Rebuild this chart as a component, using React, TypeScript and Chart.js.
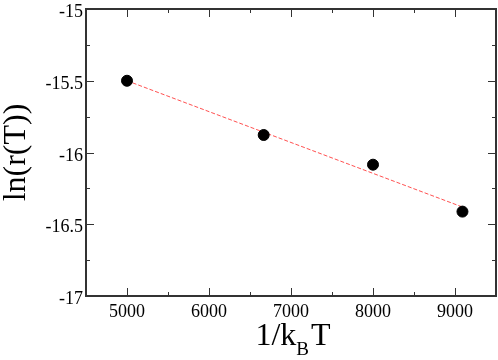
import React, { useEffect, useRef } from "react";
import { Chart, registerables } from "chart.js";

Chart.register(...registerables);

const invKT = [5000, 6667, 8000, 9091];
const lnRate = [-15.5, -15.878, -16.085, -16.412];
const fitX = [5000, 9091];
const fitY = [-15.5, -16.38];
const xTicks = [5000, 6000, 7000, 8000, 9000];
const yTicks = [-17, -16.5, -16, -15.5, -15];
const xMinor = [5500, 6500, 7500, 8500];
const yMinor = [-16.75, -16.25, -15.75, -15.25];
const xTitleMain = "1/k";
const xTitleSub = "B";
const xTitleEnd = "T";
const yTitle = "ln(r(T))";

const SERIF = "'Liberation Serif', 'DejaVu Serif', serif";
const AXIS = "#333333";

const framePlugin = {
  id: "frame",
  afterDatasetsDraw(chart: any) {
    const { ctx, chartArea: a, scales } = chart;
    const xs = scales.x, ys = scales.y;
    ctx.save();
    ctx.strokeStyle = AXIS;
    ctx.lineWidth = 1;
    const tick = (x1: number, y1: number, x2: number, y2: number) => {
      ctx.beginPath();
      ctx.moveTo(x1, y1);
      ctx.lineTo(x2, y2);
      ctx.stroke();
    };
    xTicks.forEach((v) => {
      const p = Math.round(xs.getPixelForValue(v)) + 0.5;
      tick(p, a.bottom, p, a.bottom - 8);
      tick(p, a.top, p, a.top + 8);
    });
    xMinor.forEach((v) => {
      const p = Math.round(xs.getPixelForValue(v)) + 0.5;
      tick(p, a.bottom, p, a.bottom - 4);
      tick(p, a.top, p, a.top + 4);
    });
    yTicks.forEach((v) => {
      const p = Math.round(ys.getPixelForValue(v)) + 0.5;
      tick(a.left, p, a.left + 8, p);
      tick(a.right, p, a.right - 8, p);
    });
    yMinor.forEach((v) => {
      const p = Math.round(ys.getPixelForValue(v)) + 0.5;
      tick(a.left, p, a.left + 4, p);
      tick(a.right, p, a.right - 4, p);
    });
    ctx.lineWidth = 2;
    ctx.strokeRect(a.left, a.top, a.right - a.left, a.bottom - a.top);

    // tick labels
    ctx.fillStyle = "#000";
    ctx.font = `18px ${SERIF}`;
    ctx.textBaseline = "alphabetic";
    ctx.textAlign = "center";
    xTicks.forEach((v) => {
      ctx.fillText(String(v), xs.getPixelForValue(v), a.bottom + 21);
    });
    ctx.textAlign = "right";
    yTicks.forEach((v) => {
      ctx.fillText(String(v), a.left - 3, ys.getPixelForValue(v) + 8);
    });

    // titles
    ctx.font = `32px ${SERIF}`;
    ctx.textBaseline = "alphabetic";
    ctx.textAlign = "left";
    const w1 = ctx.measureText(xTitleMain).width;
    const w3 = ctx.measureText(xTitleEnd).width;
    ctx.font = `19px ${SERIF}`;
    const w2 = ctx.measureText(xTitleSub).width;
    const total = w1 + w2 + 2 + w3;
    const cx = (a.left + a.right) / 2 + 2;
    const x0 = cx - total / 2;
    const base = a.bottom + 49;
    ctx.font = `32px ${SERIF}`;
    ctx.fillText(xTitleMain, x0, base);
    ctx.font = `19px ${SERIF}`;
    ctx.fillText(xTitleSub, x0 + w1, base + 10);
    ctx.font = `32px ${SERIF}`;
    ctx.fillText(xTitleEnd, x0 + w1 + w2 + 2, base);

    ctx.save();
    ctx.translate(17, (a.top + a.bottom) / 2);
    ctx.rotate(-Math.PI / 2);
    ctx.textAlign = "center";
    ctx.textBaseline = "middle";
    ctx.font = `32px ${SERIF}`;
    ctx.fillText(yTitle, 0, 0);
    ctx.restore();
    ctx.restore();
  },
};

export default function App() {
  const ref = useRef<HTMLCanvasElement>(null);
  useEffect(() => {
    document.body.style.margin = "0";
    const canvas = ref.current!;
    const chart = new Chart(canvas, {
      type: "scatter",
      data: {
        datasets: [
          {
            type: "scatter",
            data: invKT.map((x, i) => ({ x, y: lnRate[i] })),
            backgroundColor: "#000",
            borderColor: "#000",
            pointRadius: 5.5,
            pointHoverRadius: 5.5,
            order: 0,
          },
          {
            type: "line",
            data: fitX.map((x, i) => ({ x, y: fitY[i] })),
            borderColor: "rgba(255,50,50,0.85)",
            borderWidth: 1,
            borderDash: [4, 2],
            pointRadius: 0,
            fill: false,
            order: 1,
          } as any,
        ],
      },
      options: {
        animation: false,
        responsive: false,
        maintainAspectRatio: false,
        devicePixelRatio: 1,
        layout: { autoPadding: false, padding: { top: 9, right: 2, left: 0, bottom: 0 } },
        plugins: { legend: { display: false }, tooltip: { enabled: false } },
        scales: {
          x: {
            type: "linear",
            min: 4500,
            max: 9500,
            grid: { display: false, drawTicks: false },
            border: { display: false },
            afterBuildTicks: (s: any) => {
              s.ticks = xTicks.map((v) => ({ value: v }));
            },
            afterFit: (s: any) => {
              s.height = 64;
            },
            ticks: { display: false },
          },
          y: {
            type: "linear",
            min: -17,
            max: -15,
            grid: { display: false, drawTicks: false },
            border: { display: false },
            afterBuildTicks: (s: any) => {
              s.ticks = yTicks.map((v) => ({ value: v }));
            },
            afterFit: (s: any) => {
              s.width = 86;
            },
            ticks: { display: false },
          },
        },
      },
      plugins: [framePlugin],
    });
    return () => chart.destroy();
  }, []);
  return <canvas ref={ref} width={498} height={360} style={{ display: "block" }} />;
}
